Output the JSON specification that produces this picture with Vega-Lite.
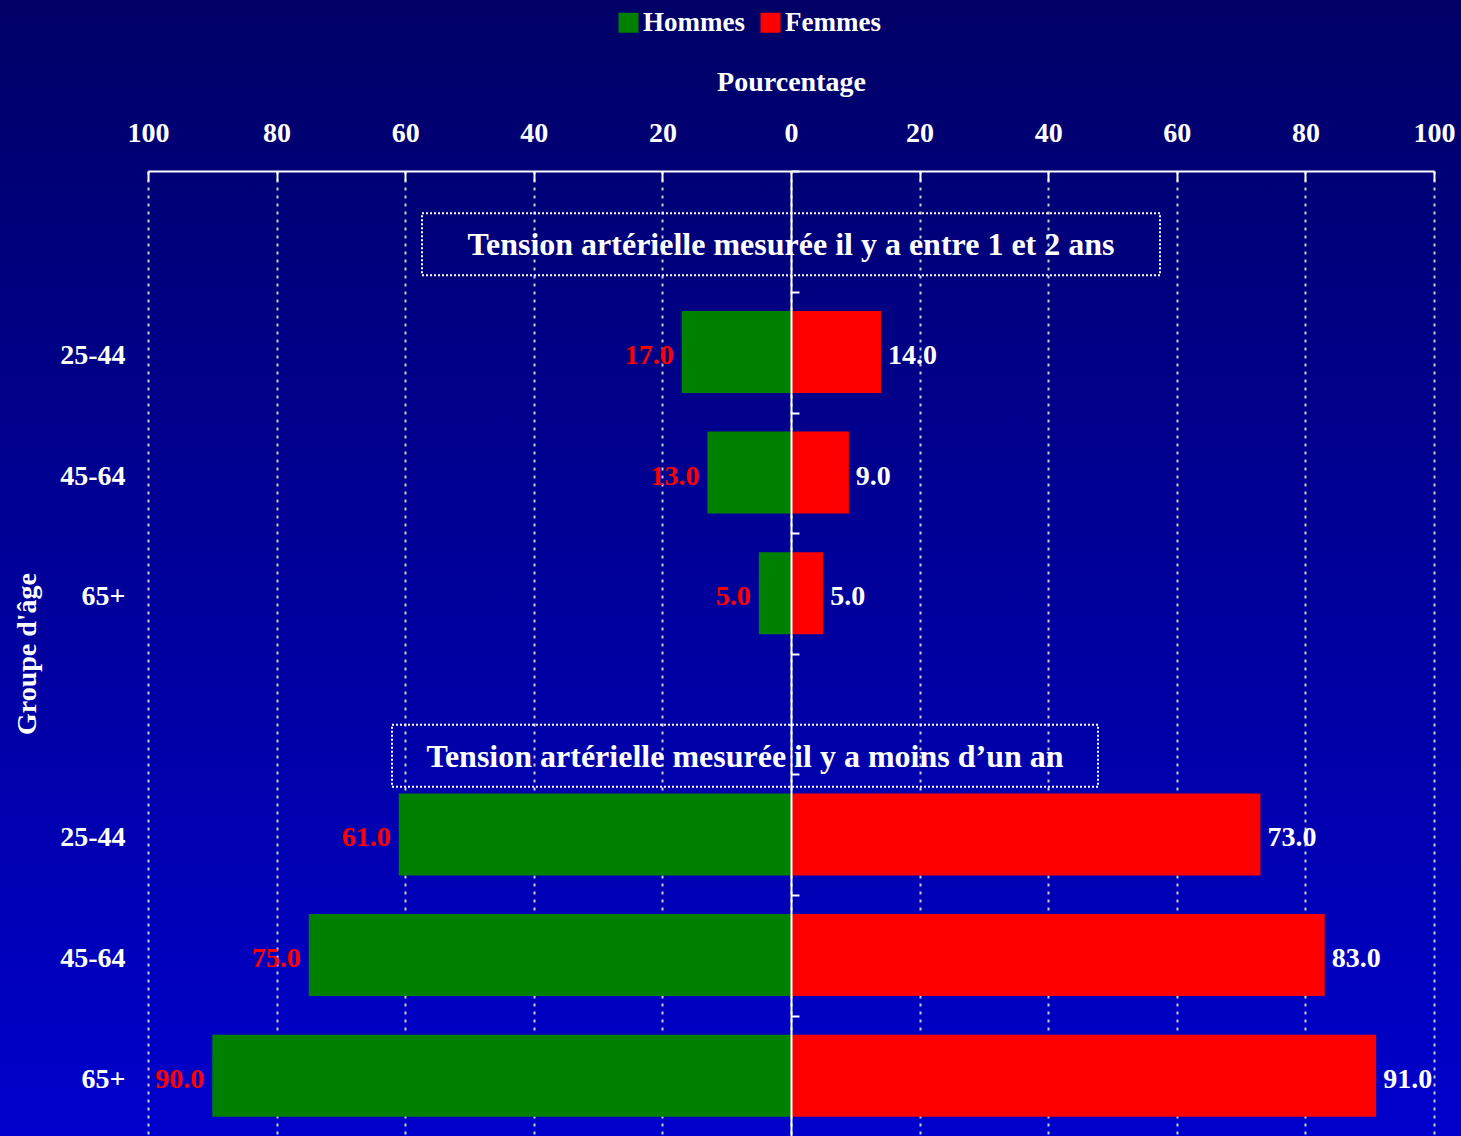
{
  "$schema": "https://vega.github.io/schema/vega-lite/v6.json",
  "width": 1461,
  "height": 1136,
  "autosize": {"type": "none"},
  "padding": 0,
  "background": "#000066",
  "view": {
    "fill": {"gradient": "linear", "x1": 0, "y1": 0, "x2": 0, "y2": 1,
      "stops": [{"offset": 0, "color": "#000066"}, {"offset": 1, "color": "#0000CC"}]},
    "stroke": null
  },
  "config": {"font": "Liberation Serif"},
  "datasets": {
    "bars": [
      {"row": "A|25-44", "sex": "Hommes", "value": 17},
      {"row": "A|25-44", "sex": "Femmes", "value": 14},
      {"row": "A|45-64", "sex": "Hommes", "value": 13},
      {"row": "A|45-64", "sex": "Femmes", "value": 9},
      {"row": "A|65+", "sex": "Hommes", "value": 5},
      {"row": "A|65+", "sex": "Femmes", "value": 5},
      {"row": "B|25-44", "sex": "Hommes", "value": 61},
      {"row": "B|25-44", "sex": "Femmes", "value": 73},
      {"row": "B|45-64", "sex": "Hommes", "value": 75},
      {"row": "B|45-64", "sex": "Femmes", "value": 83},
      {"row": "B|65+", "sex": "Hommes", "value": 90},
      {"row": "B|65+", "sex": "Femmes", "value": 91}
    ],
    "titles": [
      {"row": "TA", "label": "Tension artérielle mesurée il y a entre 1 et 2 ans"},
      {"row": "TB", "label": "Tension artérielle mesurée il y a moins d’un an"}
    ]
  },
  "layer": [
    {
      "data": {"name": "bars"},
      "transform": [{"calculate": "datum.sex === 'Hommes' ? -datum.value : datum.value", "as": "signed"}],
      "mark": {"type": "bar"},
      "encoding": {
        "y": {
          "field": "row", "type": "nominal",
          "scale": {"domain": ["TA", "A|25-44", "A|45-64", "A|65+", "TB", "B|25-44", "B|45-64", "B|65+"],
                    "range": [171, 1136], "paddingInner": 0.32, "paddingOuter": 0.16},
          "axis": {
            "orient": "left", "offset": -148, "domain": false, "ticks": false, "grid": false,
            "labelExpr": "indexof(datum.value, '|') > 0 ? split(datum.value, '|')[1] : ''",
            "labelAlign": "right", "labelPadding": 23, "labelOffset": 4, "labelFont": "Liberation Serif",
            "labelFontSize": 28, "labelFontWeight": "bold", "labelColor": "white",
            "title": "Groupe d'âge", "titleFont": "Liberation Serif", "titleFontSize": 28,
            "titleFontWeight": "bold", "titleColor": "white", "titlePadding": 18, "zindex": 1
          }
        },
        "x": {
          "field": "signed", "type": "quantitative", "stack": null,
          "scale": {"domain": [-100, 100], "range": [148, 1434], "nice": false},
          "axis": {
            "orient": "top", "offset": -171, "values": [-100, -80, -60, -40, -20, 0, 20, 40, 60, 80, 100],
            "labelExpr": "abs(datum.value)", "labelFlush": false, "labelOverlap": false,
            "domain": true, "domainColor": "white", "domainWidth": 2,
            "ticks": false, "tickSize": 0, "labelPadding": 24, "labelFont": "Liberation Serif",
            "labelFontSize": 28, "labelFontWeight": "bold", "labelColor": "white",
            "grid": true, "gridColor": "#cccccc", "gridDash": [3, 5], "gridWidth": 2,
            "title": "Pourcentage", "titleFont": "Liberation Serif", "titleFontSize": 28,
            "titleFontWeight": "bold", "titleColor": "white", "titlePadding": 23, "zindex": 0
          }
        },
        "color": {
          "field": "sex", "type": "nominal",
          "scale": {"domain": ["Hommes", "Femmes"], "range": ["#008000", "#FF0000"]},
          "legend": {
            "title": null, "orient": "none", "legendX": 615, "legendY": 9, "direction": "horizontal",
            "symbolType": "square", "symbolSize": 400, "symbolStrokeWidth": 0, "symbolOpacity": 1,
            "labelFont": "Liberation Serif", "labelFontSize": 27, "labelFontWeight": "bold",
            "labelColor": "white", "labelOffset": 1, "columnPadding": 12
          }
        }
      }
    },
    {
      "data": {"name": "bars"},
      "transform": [{"filter": "datum.sex === 'Hommes'"}, {"calculate": "-datum.value", "as": "signed"}],
      "mark": {"type": "text", "align": "right", "baseline": "middle", "dx": -8, "dy": 4,
               "font": "Liberation Serif", "fontSize": 28, "fontWeight": "bold", "color": "#FF0000"},
      "encoding": {
        "y": {
          "field": "row", "type": "nominal",
          "axis": {"orient": "right", "offset": -670, "domain": true, "domainColor": "white", "domainWidth": 2,
                   "ticks": true, "tickColor": "white", "tickWidth": 2, "tickSize": 8,
                   "bandPosition": 0, "tickOffset": -19,
                   "labels": false, "grid": false, "title": null, "zindex": 1}
        },
        "x": {
          "field": "signed", "type": "quantitative",
          "axis": {"orient": "top", "offset": -171, "values": [-100, -80, -60, -40, -20, 20, 40, 60, 80, 100],
                   "domain": false, "labels": false, "grid": false, "ticks": true, "tickSize": -10,
                   "tickColor": "white", "tickWidth": 2, "title": null, "zindex": 1}
        },
        "text": {"field": "value", "type": "quantitative", "format": ".1f"}
      }
    },
    {
      "data": {"name": "bars"},
      "transform": [{"filter": "datum.sex === 'Femmes'"}],
      "mark": {"type": "text", "align": "left", "baseline": "middle", "dx": 7, "dy": 4,
               "font": "Liberation Serif", "fontSize": 28, "fontWeight": "bold", "color": "white"},
      "encoding": {
        "y": {"field": "row", "type": "nominal", "axis": null},
        "x": {"field": "value", "type": "quantitative", "axis": null},
        "text": {"field": "value", "type": "quantitative", "format": ".1f"}
      }
    },
    {
      "data": {"name": "titles"},
      "transform": [{"filter": "datum.row === 'TA'"}],
      "mark": {"type": "rect", "width": 738, "height": 62, "yOffset": 13, "fillOpacity": 0,
               "stroke": "white", "strokeWidth": 2, "strokeDash": [2, 2]},
      "encoding": {
        "y": {"field": "row", "type": "nominal", "axis": null},
        "x": {"datum": 0, "type": "quantitative", "axis": null}
      }
    },
    {
      "data": {"name": "titles"},
      "transform": [{"filter": "datum.row === 'TA'"}],
      "mark": {"type": "text", "align": "center", "baseline": "middle", "yOffset": 14,
               "font": "Liberation Serif", "fontSize": 32, "fontWeight": "bold", "color": "white"},
      "encoding": {
        "y": {"field": "row", "type": "nominal", "axis": null},
        "x": {"datum": 0, "type": "quantitative", "axis": null},
        "text": {"field": "label", "type": "nominal"}
      }
    },
    {
      "data": {"name": "titles"},
      "transform": [{"filter": "datum.row === 'TB'"}],
      "mark": {"type": "rect", "width": 706, "height": 62, "yOffset": 42, "xOffset": -46, "fillOpacity": 0,
               "stroke": "white", "strokeWidth": 2, "strokeDash": [2, 2]},
      "encoding": {
        "y": {"field": "row", "type": "nominal", "axis": null},
        "x": {"datum": 0, "type": "quantitative", "axis": null}
      }
    },
    {
      "data": {"name": "titles"},
      "transform": [{"filter": "datum.row === 'TB'"}],
      "mark": {"type": "text", "align": "center", "baseline": "middle", "yOffset": 43, "xOffset": -46,
               "font": "Liberation Serif", "fontSize": 32, "fontWeight": "bold", "color": "white"},
      "encoding": {
        "y": {"field": "row", "type": "nominal", "axis": null},
        "x": {"datum": 0, "type": "quantitative", "axis": null},
        "text": {"field": "label", "type": "nominal"}
      }
    }
  ],
  "resolve": {"axis": {"x": "independent", "y": "independent"}}
}
